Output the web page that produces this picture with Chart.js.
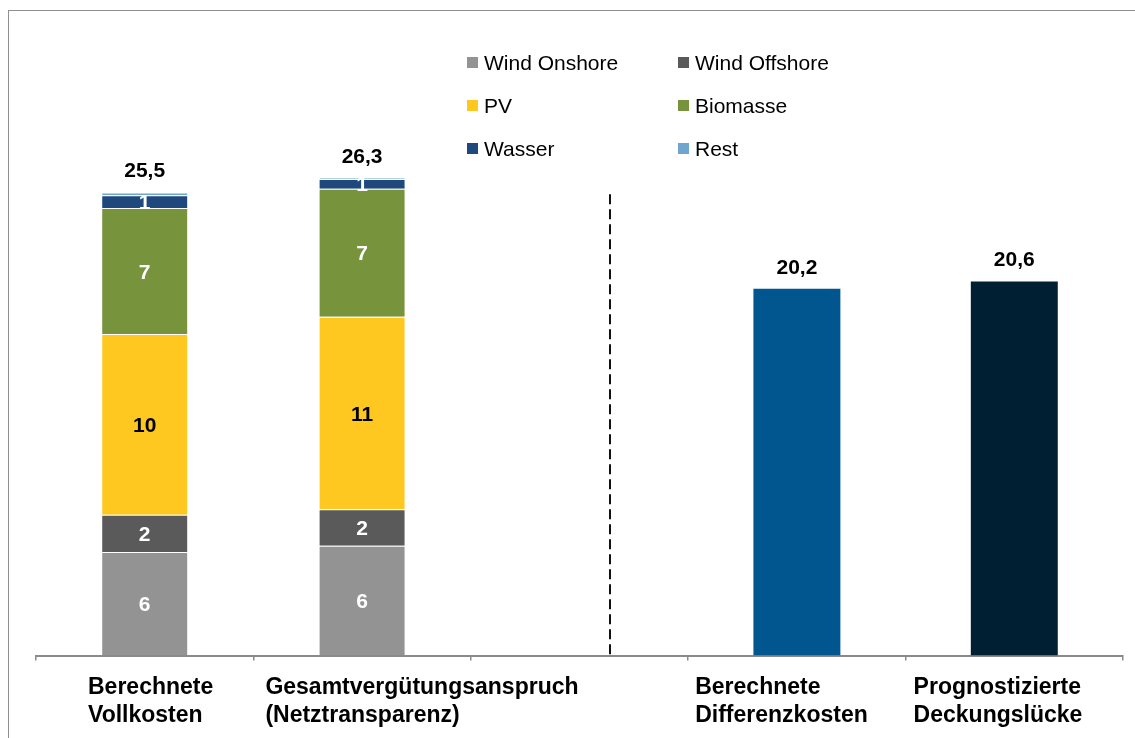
<!DOCTYPE html>
<html>
<head>
<meta charset="utf-8">
<script src="https://cdn.jsdelivr.net/npm/chart.js@4.4.0/dist/chart.umd.min.js"></script>
<style>
  body { margin: 0; background: #fff; }
  #wrap { position: relative; width: 1135px; height: 738px; overflow: hidden; }
  #frame { position: absolute; left: 8px; top: 10px; width: 1140px; height: 740px; border: 1px solid #8f8f8f; }
  #chart { position: absolute; left: 0; top: 0; }
</style>
</head>
<body>
<div id="wrap">
  <div id="frame"></div>
  <canvas id="chart" width="1135" height="738"></canvas>
</div>
<script>
const categories = [
  ['Berechnete', 'Vollkosten'],
  ['Gesamtvergütungsanspruch', '(Netztransparenz)'],
  '',
  ['Berechnete', 'Differenzkosten'],
  ['Prognostizierte', 'Deckungslücke']
];

// Mrd. Euro
const windOnshore  = [5.7,  6.05, null, null, null];
const windOffshore = [2.05, 2.0,  null, null, null];
const pv           = [9.95, 10.6, null, null, null];
const biomasse     = [6.95, 7.05, null, null, null];
const wasser       = [0.7,  0.55, null, null, null];
const rest         = [0.15, 0.05, null, null, null];
const summary      = [null, null, null, 20.2, 20.6];

const seriesNames  = ['Wind Onshore', 'Wind Offshore', 'PV', 'Biomasse', 'Wasser', 'Rest'];
const seriesData   = [windOnshore, windOffshore, pv, biomasse, wasser, rest];
const seriesColors = ['#939393', '#5a5a5a', '#ffc820', '#77933c', '#1f497d', '#6ea6cf'];
const summaryColors = [null, null, null, '#01568f', '#011f33'];

const FONT = '"Liberation Sans", Arial, sans-serif';
const LABEL_SHIFT = [52, 12, 0, 7, 8];   // x label left edge from category start
const DIVIDER_INDEX = 2.14;
const DIVIDER_TOP = 25.4;

const datasets = seriesData.map((data, i) => ({
  label: seriesNames[i],
  data,
  backgroundColor: seriesColors[i],
  borderColor: 'rgba(255,255,255,0.35)',
  borderWidth: 1,
  showValue: i < 5,
  valueColor: i === 2 ? '#000' : '#fff'
}));
datasets.push({
  label: 'Summe',
  data: summary,
  backgroundColor: summaryColors,
  borderWidth: 0,
  showValue: false
});

const fmt = (v) => v.toFixed(1).replace('.', ',');

const annotations = {
  id: 'annotations',
  afterDatasetsDraw(chart) {
    const { ctx, scales: { x, y } } = chart;
    ctx.save();

    // segment values
    ctx.font = `bold 21px ${FONT}`;
    ctx.textAlign = 'center';
    ctx.textBaseline = 'alphabetic';
    chart.data.datasets.forEach((ds, di) => {
      if (!ds.showValue) return;
      chart.getDatasetMeta(di).data.forEach((bar, i) => {
        if (ds.data[i] == null) return;
        ctx.fillStyle = ds.valueColor;
        ctx.fillText(String(Math.round(ds.data[i])), bar.x, (bar.y + bar.base) / 2 + 7.5);
      });
    });

    // totals above bars
    categories.forEach((c, i) => {
      const total = chart.data.datasets.reduce((s, ds) => s + (ds.data[i] || 0), 0);
      if (!total) return;
      ctx.fillStyle = '#000';
      ctx.fillText(fmt(total), x.getPixelForValue(i), y.getPixelForValue(total) - 15);
    });

    // dashed divider
    ctx.strokeStyle = '#111';
    ctx.lineWidth = 2;
    ctx.setLineDash([10, 5]);
    const dx = Math.round(x.getPixelForValue(DIVIDER_INDEX));
    ctx.beginPath();
    ctx.moveTo(dx, y.getPixelForValue(DIVIDER_TOP));
    ctx.lineTo(dx, y.getPixelForValue(0));
    ctx.stroke();
    ctx.setLineDash([]);

    // category labels, left aligned block per category
    const slot = x.width / categories.length;
    ctx.font = `bold 23px ${FONT}`;
    ctx.textAlign = 'left';
    categories.forEach((lines, i) => {
      if (!lines) return;
      const left = x.getPixelForValue(i) - slot / 2 + LABEL_SHIFT[i];
      lines.forEach((t, k) => ctx.fillText(t, left, x.top + 38 + k * 28));
    });

    // legend in two columns
    ctx.font = `21px ${FONT}`;
    seriesNames.forEach((name, i) => {
      const lx = 467 + (i % 2) * 211;
      const ly = 62 + Math.floor(i / 2) * 43;
      ctx.fillStyle = seriesColors[i];
      ctx.fillRect(lx, ly - 5, 11, 11);
      ctx.fillStyle = '#000';
      ctx.fillText(name, lx + 17, ly + 7.5);
    });

    ctx.restore();
  }
};

new Chart(document.getElementById('chart'), {
  type: 'bar',
  data: { labels: categories, datasets },
  options: {
    responsive: false,
    animation: false,
    layout: { padding: { left: 36, right: 12, top: 20, bottom: 0 } },
    datasets: { bar: { barPercentage: 0.8, categoryPercentage: 0.5 } },
    plugins: { legend: { display: false }, tooltip: { enabled: false } },
    scales: {
      x: {
        stacked: true,
        ticks: { display: false },
        grid: { drawOnChartArea: false, drawTicks: true, tickLength: 5, color: '#8a8a8a', lineWidth: 1.5 },
        border: { display: true, color: '#8a8a8a', width: 2 },
        afterFit: (s) => { s.height = 82.5; }
      },
      y: {
        stacked: true,
        display: false,
        min: 0,
        max: 35
      }
    }
  },
  plugins: [annotations]
});
</script>
</body>
</html>
